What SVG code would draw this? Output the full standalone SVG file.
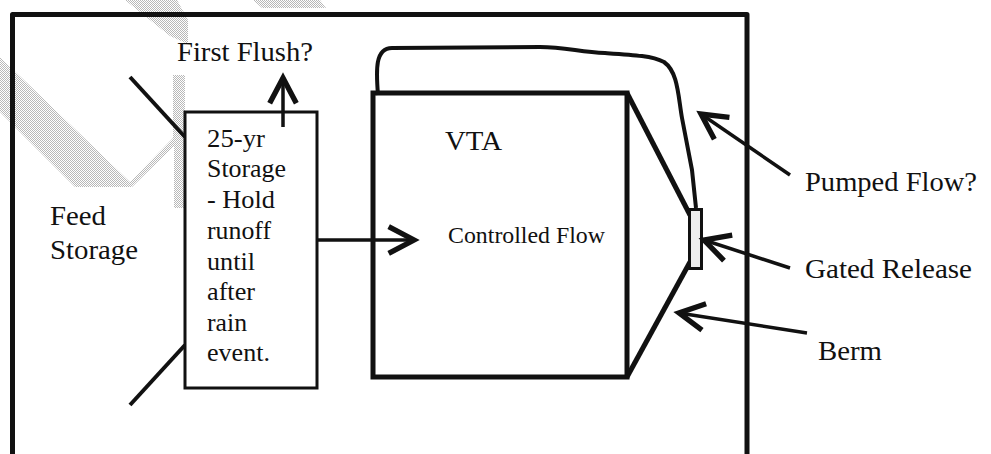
<svg xmlns="http://www.w3.org/2000/svg" width="991" height="454" viewBox="0 0 991 454">
  <defs>
    <style>
      .ln { fill: none; stroke: #111; stroke-linecap: butt; stroke-linejoin: round; }
      .arr { fill: none; stroke: #111; stroke-width: 3.5; marker-end: url(#chev); }
      .wm { fill: url(#stipple); stroke: none; }
      text { font-family: "Liberation Serif", "Times New Roman", Times, serif; fill: #111; }
    </style>
    <pattern id="stipple" patternUnits="userSpaceOnUse" width="2" height="2">
      <rect width="2" height="2" fill="#ffffff"/>
      <rect width="1" height="1" fill="#b8b8b8"/>
      <rect x="1" y="1" width="1" height="1" fill="#b8b8b8"/>
    </pattern>
    <marker id="chev" markerUnits="userSpaceOnUse" markerWidth="40" markerHeight="40" viewBox="-25 -15 30 30" refX="0" refY="0" orient="auto" overflow="visible">
      <path d="M-19,-10 L0,0 L-19,10" fill="none" stroke="#111" stroke-width="4" stroke-linejoin="miter"/>
    </marker>
  </defs>

  <rect width="991" height="454" fill="#fff"/>

  <!-- faint watermark bands -->
  <g id="watermark">
    <polygon class="wm" points="125,0 177,0 188,20 188,44 170,36"/>
    <polygon class="wm" points="253,0 320,0 326,8 262,8"/>
    <polygon class="wm" points="0,57 0,112 75,187 132,187 174,146 174,208 185,208 185,75 173,75 173,138 130,182"/>
  </g>

  <!-- outer frame -->
  <path id="frame" class="ln" d="M12.5,460 V14.5 H747 V460" stroke-width="5"/>

  <g id="inflow-lines">
    <line class="ln" x1="130" y1="77" x2="185" y2="137" stroke-width="4"/>
    <line class="ln" x1="130" y1="405" x2="185" y2="345" stroke-width="4"/>
  </g>

  <g id="feed-storage">
    <text x="50" y="225" font-size="28" textLength="56" lengthAdjust="spacingAndGlyphs">Feed</text>
    <text x="50" y="259" font-size="28" textLength="88" lengthAdjust="spacingAndGlyphs">Storage</text>
  </g>

  <g id="storage-box">
    <rect x="185" y="112" width="132" height="276" fill="#fff" stroke="#111" stroke-width="3"/>
    <text x="207" y="147" font-size="26" textLength="58" lengthAdjust="spacingAndGlyphs">25-yr</text>
    <text x="207" y="177" font-size="26" textLength="79" lengthAdjust="spacingAndGlyphs">Storage</text>
    <text x="207" y="208" font-size="26" textLength="68" lengthAdjust="spacingAndGlyphs">- Hold</text>
    <text x="207" y="239" font-size="26" textLength="64" lengthAdjust="spacingAndGlyphs">runoff</text>
    <text x="207" y="270" font-size="26" textLength="48" lengthAdjust="spacingAndGlyphs">until</text>
    <text x="207" y="300" font-size="26" textLength="48" lengthAdjust="spacingAndGlyphs">after</text>
    <text x="207" y="331" font-size="26" textLength="40" lengthAdjust="spacingAndGlyphs">rain</text>
    <text x="207" y="361" font-size="26" textLength="63" lengthAdjust="spacingAndGlyphs">event.</text>
  </g>

  <g id="first-flush">
    <text x="177" y="61" font-size="28" textLength="136" lengthAdjust="spacingAndGlyphs">First Flush?</text>
  </g>

  <g id="vta">
    <rect x="373" y="93" width="254" height="284" fill="none" stroke="#111" stroke-width="5"/>
    <text x="445" y="150" font-size="28" textLength="57" lengthAdjust="spacingAndGlyphs">VTA</text>
    <text x="448" y="243" font-size="24" textLength="157" lengthAdjust="spacingAndGlyphs">Controlled Flow</text>
  </g>

  <g id="labels">
    <text x="805" y="191" font-size="28" textLength="172" lengthAdjust="spacingAndGlyphs">Pumped Flow?</text>
    <text x="805" y="278" font-size="28" textLength="167" lengthAdjust="spacingAndGlyphs">Gated Release</text>
    <text x="818" y="360" font-size="28" textLength="64" lengthAdjust="spacingAndGlyphs">Berm</text>
  </g>

  <g id="berm">
    <polyline class="ln" points="627,93 690,215" stroke-width="5"/>
    <polyline class="ln" points="690,262 627,377" stroke-width="5"/>
  </g>

  <g id="gate">
    <rect x="689.5" y="209.5" width="12" height="59" fill="#eeeeee" stroke="#111" stroke-width="3"/>
  </g>

  <g id="pump-line">
    <path class="ln" stroke-width="4" d="M378,95 C376,70 375,48 392,48 L540,47 C565,47 580,52 605,53 C635,55 652,56 664,62 C678,72 678,95 682,118 L692,170 L696,208"/>
  </g>

  <g id="connectors">
    <line class="arr" x1="283" y1="127" x2="283" y2="78"/>
    <line class="arr" x1="317" y1="240" x2="414" y2="240"/>
    <line class="arr" x1="790" y1="175" x2="701" y2="114"/>
    <line class="arr" x1="790" y1="268" x2="704" y2="240"/>
    <line class="arr" x1="807" y1="333" x2="679" y2="313"/>
  </g>
</svg>
